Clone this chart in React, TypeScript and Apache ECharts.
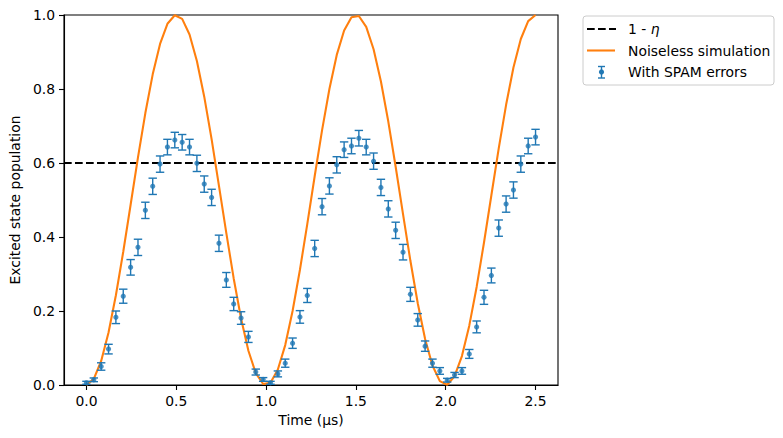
import React, { useEffect, useRef } from 'react';
import * as echarts from 'echarts';

// Time points (µs)
const times = [
  0.0, 0.041, 0.082, 0.123, 0.1639, 0.2049, 0.2459, 0.2869, 0.3279, 0.3689,
  0.4098, 0.4508, 0.4918, 0.5328, 0.5738, 0.6148, 0.6557, 0.6967, 0.7377, 0.7787,
  0.8197, 0.8607, 0.9016, 0.9426, 0.9836, 1.0246, 1.0656, 1.1066, 1.1475, 1.1885,
  1.2295, 1.2705, 1.3115, 1.3525, 1.3934, 1.4344, 1.4754, 1.5164, 1.5574, 1.5984,
  1.6393, 1.6803, 1.7213, 1.7623, 1.8033, 1.8443, 1.8852, 1.9262, 1.9672, 2.0082,
  2.0492, 2.0902, 2.1311, 2.1721, 2.2131, 2.2541, 2.2951, 2.3361, 2.377, 2.418,
  2.459, 2.5,
];

// Noiseless simulation (orange line)
const noiseless = [
  0.0, 0.0165, 0.0649, 0.1419, 0.2426, 0.3602, 0.4872, 0.615, 0.735, 0.8396,
  0.9218, 0.9763, 0.9993, 0.9894, 0.9473, 0.8756, 0.7792, 0.6644, 0.5382, 0.4104,
  0.288, 0.1797, 0.0925, 0.0321, 0.0027, 0.006, 0.0418, 0.1079, 0.1999, 0.3115,
  0.4357, 0.5641, 0.6882, 0.8001, 0.8921, 0.9582, 0.994, 0.9973, 0.9679, 0.9075,
  0.8203, 0.712, 0.5898, 0.4617, 0.3357, 0.2209, 0.1245, 0.0528, 0.0106, 0.0007,
  0.0237, 0.0781, 0.1604, 0.265, 0.3851, 0.5128, 0.6395, 0.7573, 0.8582, 0.9351,
  0.9835, 1.0,
];

// With SPAM errors (blue points)
const spam = [
  0.006, 0.014, 0.05, 0.097, 0.183, 0.24, 0.318, 0.372, 0.472, 0.537,
  0.597, 0.643, 0.662, 0.656, 0.643, 0.599, 0.543, 0.507, 0.383, 0.284,
  0.219, 0.181, 0.13, 0.035, 0.015, 0.006, 0.03, 0.059, 0.113, 0.184,
  0.242, 0.369, 0.482, 0.538, 0.595, 0.636, 0.646, 0.667, 0.643, 0.605,
  0.534, 0.476, 0.418, 0.359, 0.245, 0.176, 0.105, 0.059, 0.038, 0.013,
  0.027, 0.038, 0.084, 0.157, 0.237, 0.296, 0.424, 0.489, 0.527, 0.597,
  0.646, 0.67,
];

// Error bar half-heights
const spamErr = [
  0.004, 0.005, 0.01, 0.013, 0.017, 0.019, 0.021, 0.022, 0.022, 0.022,
  0.022, 0.021, 0.021, 0.021, 0.021, 0.022, 0.022, 0.022, 0.022, 0.02,
  0.018, 0.017, 0.015, 0.008, 0.005, 0.004, 0.008, 0.011, 0.014, 0.017,
  0.019, 0.022, 0.022, 0.022, 0.022, 0.021, 0.021, 0.021, 0.021, 0.022,
  0.022, 0.022, 0.022, 0.021, 0.019, 0.017, 0.014, 0.011, 0.009, 0.005,
  0.007, 0.009, 0.012, 0.016, 0.019, 0.02, 0.022, 0.022, 0.022, 0.022,
  0.021, 0.021,
];

const threshold = 0.6;
const xTicks = [0, 0.5, 1.0, 1.5, 2.0, 2.5];
const yTicks = [0, 0.2, 0.4, 0.6, 0.8, 1.0];
const X_MIN = -0.125;
const X_MAX = 2.625;

const BLUE = '#1f77b4';
const ORANGE = '#ff7f0e';
const FONT = 'DejaVu Sans';
const FS = 13.9;

export default function App() {
  const ref = useRef<HTMLDivElement>(null);

  useEffect(() => {
    if (!ref.current) return;
    const chart = echarts.init(ref.current, null, { renderer: 'svg' });
    const errData = times.map((t, i) => [t, spam[i], spamErr[i]]);
    const ptData = times.map((t, i) => [t, spam[i]]);
    const lineData = times.map((t, i) => [t, noiseless[i]]);

    const axisCommon = {
      axisLine: { show: true, onZero: false, lineStyle: { color: '#000', width: 1.1 } },
      splitLine: { show: false },
      nameLocation: 'middle',
      nameTextStyle: { color: '#000', fontSize: FS, fontFamily: FONT },
    };

    chart.setOption({
      animation: false,
      textStyle: { fontFamily: FONT },
      grid: {
        left: 62, top: 15, width: 496, height: 370,
        show: true, borderColor: '#000', borderWidth: 1.1, backgroundColor: '#fff',
      },
      xAxis: {
        ...axisCommon,
        type: 'value', min: X_MIN, max: X_MAX,
        axisTick: { show: true, inside: false, length: 5, customValues: xTicks, lineStyle: { color: '#000', width: 1.1 } },
        axisLabel: { customValues: xTicks, formatter: (v: number) => v.toFixed(1), color: '#000', fontSize: FS, fontFamily: FONT, margin: 9 },
        name: 'Time (\u00b5s)', nameGap: 28,
      },
      yAxis: {
        ...axisCommon,
        type: 'value', min: 0, max: 1,
        axisTick: { show: true, inside: false, length: 5, customValues: yTicks, lineStyle: { color: '#000', width: 1.1 } },
        axisLabel: { customValues: yTicks, formatter: (v: number) => v.toFixed(1), color: '#000', fontSize: FS, fontFamily: FONT, margin: 9 },
        name: 'Excited state population', nameGap: 41,
      },
      series: [
        {
          type: 'line', name: '1 - \u03b7',
          data: [[X_MIN, threshold], [X_MAX, threshold]],
          showSymbol: false, symbol: 'none', z: 2,
          lineStyle: { color: '#000', width: 2.08, type: [7.7, 3.3] },
        },
        {
          type: 'line', name: 'Noiseless simulation', data: lineData,
          showSymbol: false, symbol: 'none', z: 3,
          lineStyle: { color: ORANGE, width: 2.08 },
        },
        {
          type: 'custom', name: 'With SPAM errors', data: errData, z: 4,
          encode: { x: 0, y: 1 },
          renderItem: (_p: any, api: any) => {
            const x = api.value(0), y = api.value(1), e = api.value(2);
            const top = api.coord([x, y + e]);
            const bot = api.coord([x, y - e]);
            const cw = 4.2;
            const style = { stroke: BLUE, lineWidth: 1.4 };
            return {
              type: 'group',
              children: [
                { type: 'line', shape: { x1: top[0], y1: top[1], x2: bot[0], y2: bot[1] }, style },
                { type: 'line', shape: { x1: top[0] - cw, y1: top[1], x2: top[0] + cw, y2: top[1] }, style },
                { type: 'line', shape: { x1: bot[0] - cw, y1: bot[1], x2: bot[0] + cw, y2: bot[1] }, style },
              ],
            };
          },
        },
        {
          type: 'scatter', name: 'With SPAM errors points', data: ptData, z: 5,
          symbol: 'circle', symbolSize: 5.2, itemStyle: { color: BLUE },
        },
      ],
      graphic: [
        { type: 'rect', shape: { x: 583, y: 16, width: 191, height: 69, r: 3 }, style: { fill: 'rgba(255,255,255,0.8)', stroke: '#cccccc', lineWidth: 1 } },
        { type: 'line', shape: { x1: 587, y1: 29, x2: 616, y2: 29 }, style: { stroke: '#000', lineWidth: 2.08, lineDash: [7.7, 3.3] } },
        { type: 'text', x: 628, y: 29, style: { text: '1 - {i|\u03b7}', rich: { i: { fontStyle: 'italic', fontSize: FS, fontFamily: FONT, fill: '#000' } }, fontSize: FS, fontFamily: FONT, fill: '#000', verticalAlign: 'middle' } },
        { type: 'line', shape: { x1: 587, y1: 50.5, x2: 615, y2: 50.5 }, style: { stroke: ORANGE, lineWidth: 2.08 } },
        { type: 'text', x: 628, y: 50.5, style: { text: 'Noiseless simulation', fontSize: FS, fontFamily: FONT, fill: '#000', verticalAlign: 'middle' } },
        { type: 'line', shape: { x1: 601.5, y1: 66.5, x2: 601.5, y2: 78 }, style: { stroke: BLUE, lineWidth: 1.4 } },
        { type: 'line', shape: { x1: 598, y1: 66.5, x2: 605, y2: 66.5 }, style: { stroke: BLUE, lineWidth: 1.4 } },
        { type: 'line', shape: { x1: 598, y1: 78, x2: 605, y2: 78 }, style: { stroke: BLUE, lineWidth: 1.4 } },
        { type: 'circle', shape: { cx: 601.5, cy: 72, r: 2.6 }, style: { fill: BLUE } },
        { type: 'text', x: 628, y: 72, style: { text: 'With SPAM errors', fontSize: FS, fontFamily: FONT, fill: '#000', verticalAlign: 'middle' } },
      ],
    });

    return () => chart.dispose();
  }, []);

  return (
    <div
      ref={ref}
      style={{ position: 'absolute', left: 0, top: 0, width: 783, height: 438, background: '#fff' }}
    />
  );
}
